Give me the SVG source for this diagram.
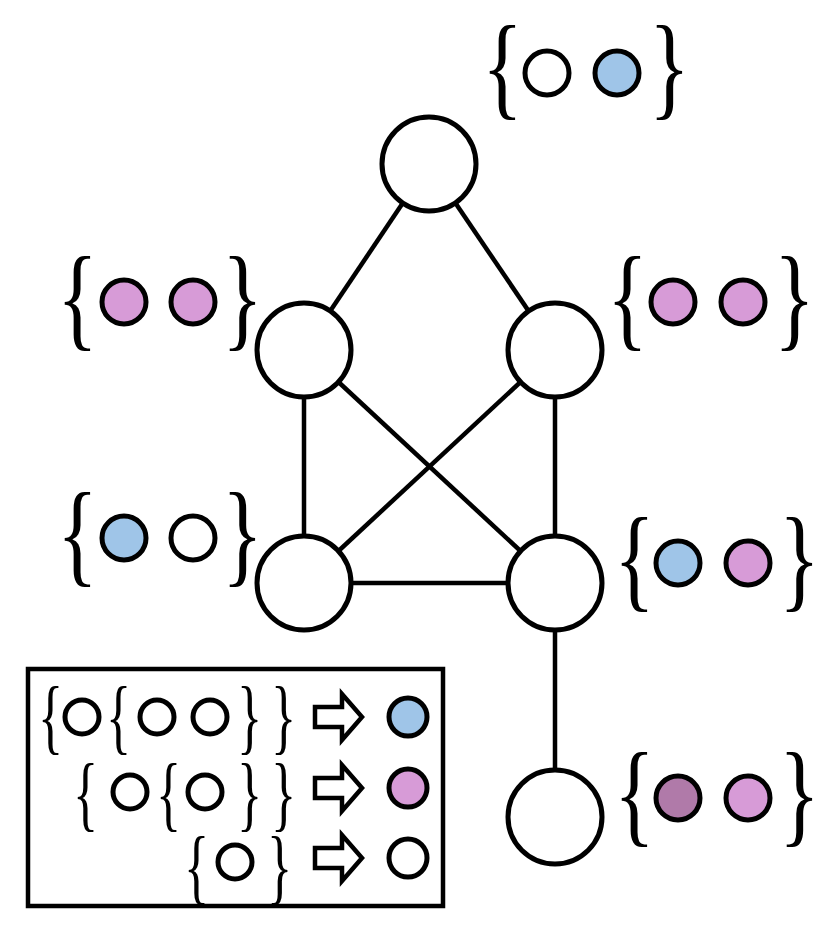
<svg xmlns="http://www.w3.org/2000/svg" width="831" height="947" viewBox="0 0 831 947">
<style>
.n{fill:#fff;stroke:#000;stroke-width:5}
.w{fill:#fff}.b{fill:#9fc5e8}.p{fill:#d79bd7}.d{fill:#b07aa9}
.br{font-family:"Liberation Serif",serif;font-size:100px}
.lb{font-family:"Liberation Serif",serif;font-size:75px}
.e{stroke:#000;stroke-width:4.5;fill:none}
.ar{fill:#fff;stroke:#000;stroke-width:4.5;stroke-linejoin:miter}
</style>
<rect width="831" height="947" fill="#fff"/>
<g id="edges" class="e">
<line x1="429" y1="164" x2="304" y2="350"/>
<line x1="429" y1="164" x2="555" y2="350"/>
<line x1="304" y1="350" x2="304" y2="583"/>
<line x1="555" y1="350" x2="555" y2="583"/>
<line x1="304" y1="350" x2="555" y2="583"/>
<line x1="555" y1="350" x2="304" y2="583"/>
<line x1="304" y1="583" x2="555" y2="583"/>
<line x1="555" y1="583" x2="555" y2="817"/>
</g>
<g id="n-top"><circle class="n" cx="429" cy="164" r="47"/></g>
<g id="n-ml"><circle class="n" cx="304" cy="350" r="47"/></g>
<g id="n-mr"><circle class="n" cx="555" cy="350" r="47"/></g>
<g id="n-ll"><circle class="n" cx="304" cy="583" r="47"/></g>
<g id="n-lr"><circle class="n" cx="555" cy="583" r="47"/></g>
<g id="n-bot"><circle class="n" cx="555" cy="817" r="47"/></g>

<g id="set-top"><text class="br" transform="translate(482,105) scale(0.85,1.15)">{</text><circle class="n w" cx="547" cy="73" r="22"/><circle class="n b" cx="617" cy="73" r="22"/><text class="br" transform="translate(649,105) scale(0.85,1.15)">}</text></g>
<g id="set-ml"><text class="br" transform="translate(57,336) scale(0.85,1.15)">{</text><circle class="n p" cx="124" cy="302" r="22"/><circle class="n p" cx="193" cy="302" r="22"/><text class="br" transform="translate(222,336) scale(0.85,1.15)">}</text></g>
<g id="set-mr"><text class="br" transform="translate(607,336) scale(0.85,1.15)">{</text><circle class="n p" cx="673" cy="302" r="22"/><circle class="n p" cx="743" cy="302" r="22"/><text class="br" transform="translate(774,336) scale(0.85,1.15)">}</text></g>
<g id="set-ll"><text class="br" transform="translate(57,572) scale(0.85,1.15)">{</text><circle class="n b" cx="124" cy="538" r="22"/><circle class="n w" cx="193" cy="538" r="22"/><text class="br" transform="translate(222,572) scale(0.85,1.15)">}</text></g>
<g id="set-lr"><text class="br" transform="translate(614,597) scale(0.85,1.15)">{</text><circle class="n b" cx="678" cy="563" r="22"/><circle class="n p" cx="748" cy="563" r="22"/><text class="br" transform="translate(779,597) scale(0.85,1.15)">}</text></g>
<g id="set-bot"><text class="br" transform="translate(614,832) scale(0.85,1.15)">{</text><circle class="n d" cx="678" cy="798" r="22"/><circle class="n p" cx="748" cy="798" r="22"/><text class="br" transform="translate(779,832) scale(0.85,1.15)">}</text></g>

<g id="legend">
<rect x="28" y="669" width="415" height="237" fill="none" stroke="#000" stroke-width="4.5"/>
<text class="lb" transform="translate(38,744) scale(0.7,1.1)">{</text><circle class="n w" cx="82" cy="717" r="17"/><text class="lb" transform="translate(106,744) scale(0.7,1.1)">{</text><circle class="n w" cx="157" cy="717" r="17"/><circle class="n w" cx="210" cy="717" r="17"/><text class="lb" transform="translate(237,744) scale(0.7,1.1)">}</text><text class="lb" transform="translate(271,744) scale(0.7,1.1)">}</text>
<polygon class="ar" points="315,707 342,707 342,694 362,717 342,740 342,727 315,727"/>
<circle class="n b" cx="408" cy="717" r="19"/>
<text class="lb" transform="translate(73,821) scale(0.7,1.1)">{</text><circle class="n w" cx="130" cy="792" r="17"/><text class="lb" transform="translate(156,821) scale(0.7,1.1)">{</text><circle class="n w" cx="205" cy="792" r="17"/><text class="lb" transform="translate(237,821) scale(0.7,1.1)">}</text><text class="lb" transform="translate(271,821) scale(0.7,1.1)">}</text>
<polygon class="ar" points="315,778 342,778 342,765 362,788 342,811 342,798 315,798"/>
<circle class="n p" cx="408" cy="788" r="19"/>
<text class="lb" transform="translate(184,894) scale(0.7,1.1)">{</text><circle class="n w" cx="235" cy="862" r="17"/><text class="lb" transform="translate(267,894) scale(0.7,1.1)">}</text>
<polygon class="ar" points="315,848 342,848 342,835 362,858 342,881 342,868 315,868"/>
<circle class="n w" cx="408" cy="858" r="19"/>
</g>
</svg>
